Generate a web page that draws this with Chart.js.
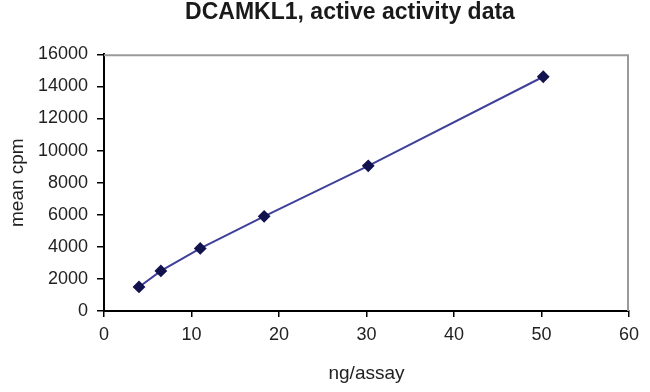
<!DOCTYPE html>
<html>
<head>
<meta charset="utf-8">
<script src="https://cdn.jsdelivr.net/npm/chart.js@4"></script>
<style>
  body { margin: 0; background: #fff; }
  #wrap { width: 650px; height: 392px; }
</style>
</head>
<body>
<div id="wrap"><canvas id="dcamkl1_chart" width="650" height="392"></canvas></div>
<script>
// values
var ng_assay = [4, 6.5, 11, 18.3, 30.2, 50.2];
var mean_cpm = [1500, 2500, 3900, 5900, 9050, 14600];

var points = ng_assay.map(function (x, i) {
    return { x: x, y: mean_cpm[i] };
});

// gray frame on top and right of the plot area
var plotFrame = {
    id: 'plotFrame',
    afterLayout: function (chart) {
        // title sits a bit right of the canvas middle in the original
        var t = chart.titleBlock;
        t.left = 700 - t.right;
    },
    beforeDatasetsDraw: function (chart) {
        var a = chart.chartArea;
        var ctx = chart.ctx;
        ctx.save();
        ctx.strokeStyle = '#9a9a9a';
        ctx.lineWidth = 2;
        ctx.beginPath();
        ctx.moveTo(a.left, a.top + 1);
        ctx.lineTo(a.right - 1, a.top + 1);
        ctx.lineTo(a.right - 1, a.bottom);
        ctx.stroke();
        ctx.restore();
    }
};

var tickFont = { family: 'Liberation Sans, Arial, sans-serif', size: 18 };
var axisTitleFont = { family: 'Liberation Sans, Arial, sans-serif', size: 19 };

new Chart(document.getElementById('dcamkl1_chart'), {
    type: 'scatter',
    data: {
        datasets: [{
            data: points,
            showLine: true,
            borderColor: '#40409c',
            borderWidth: 2,
            pointStyle: 'rectRot',
            pointRadius: 5,
            pointBackgroundColor: '#12124e',
            pointBorderColor: '#12124e',
            tension: 0
        }]
    },
    options: {
        responsive: false,
        animation: false,
        layout: { padding: { top: 0, right: 21, bottom: 0, left: 0 } },
        plugins: {
            legend: { display: false },
            tooltip: { enabled: false },
            title: {
                display: true,
                text: 'DCAMKL1, active activity data',
                color: '#1a1a1a',
                font: { family: 'Liberation Sans, Arial, sans-serif', size: 23, weight: 'bold', lineHeight: 1.1 },
                padding: { top: 0, bottom: 29 }
            }
        },
        scales: {
            x: {
                type: 'linear',
                min: 0,
                max: 60,
                ticks: { stepSize: 10, color: '#222', font: tickFont, padding: 7 },
                grid: { drawOnChartArea: false, tickLength: 6, color: '#000', lineWidth: 1.5 },
                border: { color: '#000', width: 2 },
                title: {
                    display: true,
                    text: 'ng/assay',
                    color: '#222',
                    font: axisTitleFont,
                    padding: { top: 0, bottom: 7 }
                },
                afterFit: function (scale) { scale.height = 81; }
            },
            y: {
                min: 0,
                max: 16000,
                ticks: {
                    stepSize: 2000,
                    color: '#222',
                    font: tickFont,
                    padding: 9,
                    callback: function (v) { return String(v); }
                },
                grid: { drawOnChartArea: false, tickLength: 7, color: '#000', lineWidth: 1.5 },
                border: { color: '#000', width: 2 },
                title: {
                    display: true,
                    text: 'mean cpm',
                    color: '#222',
                    font: axisTitleFont,
                    padding: { top: 6, bottom: 0 }
                },
                afterFit: function (scale) { scale.width = 104; }
            }
        }
    },
    plugins: [plotFrame]
});
</script>
</body>
</html>
